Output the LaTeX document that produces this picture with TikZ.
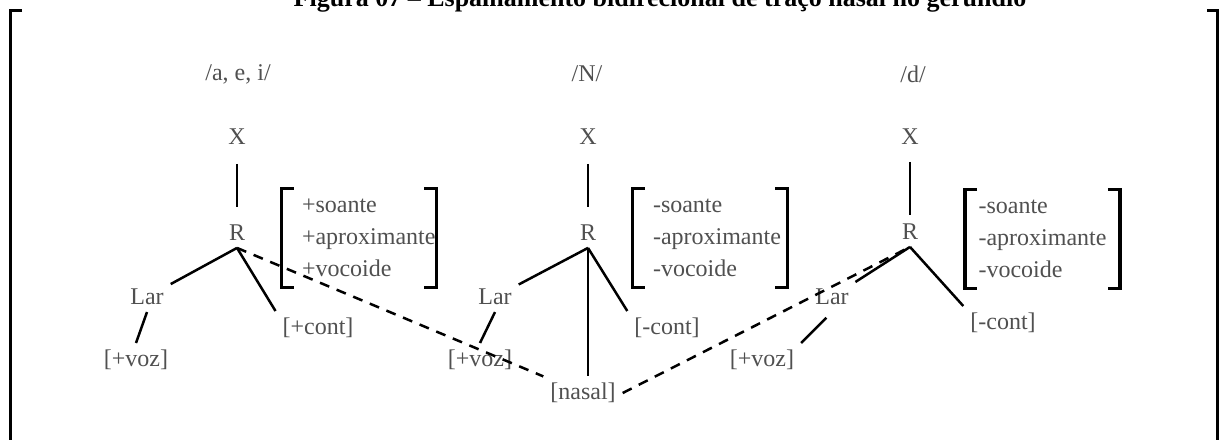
\documentclass[tikz,border=0pt]{standalone}
\usepackage{fontspec}
\setmainfont{Liberation Serif}
\usepackage{xcolor}
\definecolor{ink}{HTML}{505050}
\hyphenpenalty=10000
\exhyphenpenalty=10000

\begin{document}
\begin{tikzpicture}[x=0.5pt, y=-0.5pt, font=\fontsize{12}{16}\selectfont,
  tier/.style={text=ink},
  feat/.style={text=ink, text width=57pt, inner xsep=10pt, minimum height=49pt, align=left},
  assoc/.style={line width=1.25pt},
  stem/.style={assoc, shorten <=6pt, shorten >=5.5pt},
  spread/.style={assoc, dash pattern=on 5pt off 4pt},
  brk/.style={line width=1.7pt},
  frame/.style={line width=1.5pt}]
\useasboundingbox (0,0) rectangle (1219,439);
\clip (0,0) rectangle (1219,439);
% caption, cut off by the page
\node[anchor=base, font=\fontsize{13}{15}\selectfont\bfseries] (title) at (660,6) {Figura 07 -- Espalhamento bidirecional de traço nasal no gerúndio};
\draw[frame] (22,10.5) -| (10,440);
\draw[frame] (1207,10.5) -| (1217.5,440);

% /a, e, i/
\node[tier] (s1) at (238,74) {/a, e, i/};
\node[tier] (x1) at (237,137) {X};
\node[tier] (r1) at (237,233) {R};
\node[tier] (lar1) at (147,297) {Lar};
\node[tier] (voz1) at (136,360) {[+voz]};
\node[tier] (cont1) at (318,328) {[+cont]};
\node[feat] (f1) at (359,238) {+soante\\+aproximante\\+vocoide};
\draw[stem] (x1) -- (r1);
\draw[assoc] (r1.south) -- (lar1);
\draw[assoc] (lar1.south) -- (voz1.north);
\draw[assoc] (r1.south) -- (cont1.north west);
\draw[brk] ([xshift=6pt]f1.north west) -| (f1.south west) -- ++(6pt,0);
\draw[brk] ([xshift=-6pt]f1.north east) -| (f1.south east) -- ++(-6pt,0);

% /N/
\node[tier] (s2) at (587,74) {/N/};
\node[tier] (x2) at (588,137) {X};
\node[tier] (r2) at (588,233) {R};
\node[tier] (lar2) at (495,297) {Lar};
\node[tier] (voz2) at (480,360) {[+voz]};
\node[tier] (nasal) at (583,393) {[nasal]};
\node[tier] (cont2) at (667,328) {[-cont]};
\node[feat] (f2) at (710,238) {-soante\\-aproximante\\-vocoide};
\draw[stem] (x2) -- (r2);
\draw[assoc] (r2.south) -- (lar2);
\draw[assoc] (lar2.south) -- (voz2.north);
\draw[assoc] (r2.south) -- (r2.south |- nasal.north);
\draw[assoc] (r2.south) -- (cont2.north west);
\draw[brk] ([xshift=6pt]f2.north west) -| (f2.south west) -- ++(6pt,0);
\draw[brk] ([xshift=-6pt]f2.north east) -| (f2.south east) -- ++(-6pt,0);

% /d/
\node[tier] (s3) at (913,74) {/d/};
\node[tier] (x3) at (910,137) {X};
\node[tier] (r3) at (910,232) {R};
\node[tier] (lar3) at (832,297) {Lar};
\node[tier] (voz3) at (762,360) {[+voz]};
\node[tier] (cont3) at (1003,323) {[-cont]};
\node[feat, text width=64pt, inner xsep=6.5pt] (f3) at (1042.5,239) {-soante\\-aproximante\\-vocoide};
\draw[stem, shorten <=5pt, shorten >=1pt] (x3) -- (r3);
\draw[assoc] (r3.south) -- (lar3);
\draw[assoc, shorten <=4pt] (lar3.south) -- (voz3.north east);
\draw[assoc] (r3.south) -- (cont3.north west);
\draw[brk] ([xshift=6pt]f3.north west) -| (f3.south west) -- ++(6pt,0);
\draw[brk] ([xshift=-6pt]f3.north east) -| (f3.south east) -- ++(-6pt,0);

% nasal spreads both ways
\draw[spread] (r1.south) -- (nasal);
\draw[spread] (nasal.east) -- (r3.south);
\end{tikzpicture}
\end{document}
